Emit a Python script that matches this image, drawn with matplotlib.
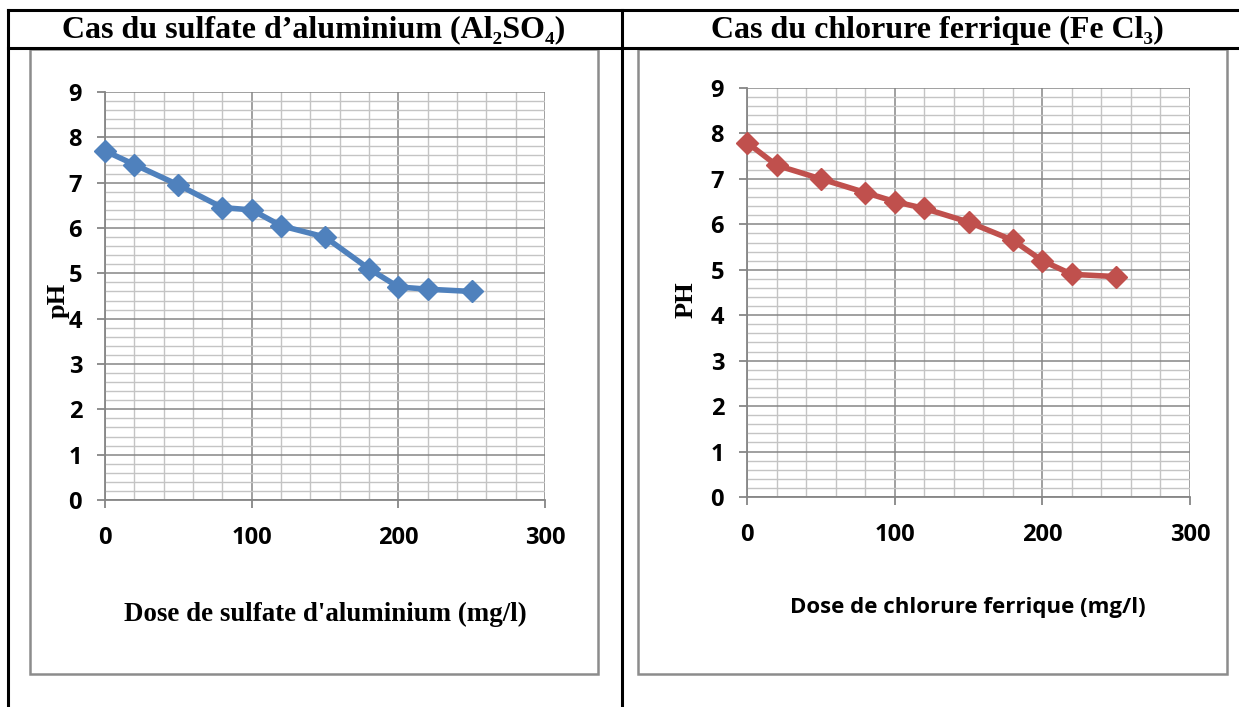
import matplotlib.pyplot as plt
from matplotlib.lines import Line2D
from matplotlib.patches import Rectangle
from matplotlib.ticker import MultipleLocator

# data
dose_al = [0, 20, 50, 80, 100, 120, 150, 180, 200, 220, 250]
ph_al = [7.7, 7.4, 6.95, 6.45, 6.4, 6.05, 5.8, 5.1, 4.7, 4.65, 4.6]
dose_fe = [0, 20, 50, 80, 100, 120, 150, 180, 200, 220, 250]
ph_fe = [7.8, 7.3, 7.0, 6.7, 6.5, 6.35, 6.05, 5.65, 5.2, 4.9, 4.85]

W, H = 1239, 707
fig = plt.figure(figsize=(W / 100, H / 100), dpi=100)

SERIF = ['Liberation Serif', 'DejaVu Serif']
SANS = ['Open Sans', 'DejaVu Sans']


def fx(px):
    return px / W


def fy(py):
    return 1 - py / H


# table borders
for x0, y0, x1, y1 in [(8, 10, 1238, 10), (8, 48, 1238, 48),
                       (8, 10, 8, 707), (622, 10, 622, 707)]:
    fig.add_artist(Line2D([fx(x0), fx(x1)], [fy(y0), fy(y1)],
                          color='black', lw=2.2, transform=fig.transFigure))

# chart frames
for x0, x1 in [(30, 598), (638, 1227)]:
    fig.add_artist(Rectangle((fx(x0), fy(674)), fx(x1 - x0), (674 - 49) / H,
                             fill=False, ec='#8c8c8c', lw=1.8,
                             transform=fig.transFigure))

# headers
fig.text(fx(314), fy(30), 'Cas du sulfate d\u2019aluminium (Al\u2082SO\u2084)',
         ha='center', va='center', family=SERIF, weight='bold', size=23)
fig.text(fx(937), fy(30), 'Cas du chlorure ferrique (Fe Cl\u2083)',
         ha='center', va='center', family=SERIF, weight='bold', size=23)


def make_chart(rect, x, y, color):
    ax = fig.add_axes(rect)
    ax.plot(x, y, color=color, lw=4, marker='D', markersize=11,
            zorder=3, clip_on=False)
    ax.set_xlim(0, 300)
    ax.set_ylim(0, 9)
    ax.xaxis.set_major_locator(MultipleLocator(100))
    ax.xaxis.set_minor_locator(MultipleLocator(20))
    ax.yaxis.set_major_locator(MultipleLocator(1))
    ax.yaxis.set_minor_locator(MultipleLocator(0.2))
    ax.grid(which='major', color='#868686', lw=1.1)
    ax.grid(which='minor', color='#c4c4c4', lw=1.0)
    ax.set_axisbelow(True)
    for s in ['top', 'right']:
        ax.spines[s].set_visible(False)
    for s in ['left', 'bottom']:
        ax.spines[s].set_color('#868686')
        ax.spines[s].set_linewidth(1.3)
    ax.tick_params(which='major', direction='out', length=5.5, color='#868686',
                   width=1.3, labelsize=17)
    ax.tick_params(axis='x', which='major', pad=13)
    ax.tick_params(axis='y', which='major', pad=11)
    ax.tick_params(which='minor', length=0)
    for lab in ax.get_xticklabels() + ax.get_yticklabels():
        lab.set_fontfamily(SANS)
        lab.set_fontweight('bold')
    return ax


ax1 = make_chart([fx(105), fy(500), fx(440), 408 / H], dose_al, ph_al, '#4f81bd')
ax2 = make_chart([fx(747), fy(497), fx(443), 409 / H], dose_fe, ph_fe, '#c0504d')

fig.text(fx(325), fy(614), "Dose de sulfate d'aluminium (mg/l)", ha='center',
         va='center', family=SERIF, weight='bold', size=19.4)
fig.text(fx(58), fy(300), 'pH', ha='center', va='center', rotation=90,
         family=SERIF, weight='bold', size=19)
fig.text(fx(968), fy(608), 'Dose de chlorure ferrique (mg/l)', ha='center',
         va='center', family=SANS, weight='bold', size=16)
fig.text(fx(686), fy(300), 'PH', ha='center', va='center', rotation=90,
         family=SERIF, weight='bold', size=19)

fig.savefig('out.png', dpi=100)
